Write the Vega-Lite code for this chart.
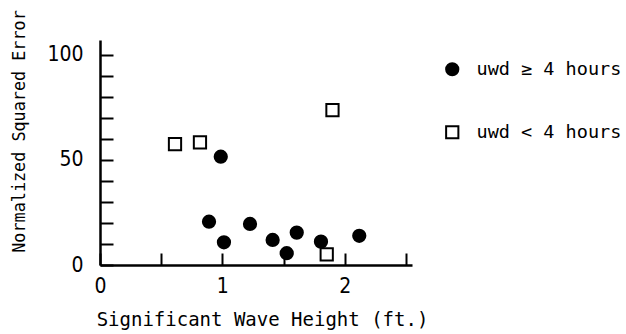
{
  "$schema": "https://vega.github.io/schema/vega-lite/v6.json",
  "width": 312,
  "height": 225,
  "autosize": "none",
  "padding": {"left": 100, "top": 40, "right": 214, "bottom": 69},
  "background": "white",
  "data": {
    "values": [
      {"h": 0.613, "err": 57.5, "group": "uwd < 4 hours"},
      {"h": 0.817, "err": 58.3, "group": "uwd < 4 hours"},
      {"h": 1.90, "err": 73.7, "group": "uwd < 4 hours"},
      {"h": 1.853, "err": 5.1, "group": "uwd < 4 hours"},
      {"h": 0.987, "err": 51.5, "group": "uwd ≥ 4 hours"},
      {"h": 0.891, "err": 20.6, "group": "uwd ≥ 4 hours"},
      {"h": 1.013, "err": 10.8, "group": "uwd ≥ 4 hours"},
      {"h": 1.226, "err": 19.5, "group": "uwd ≥ 4 hours"},
      {"h": 1.411, "err": 11.9, "group": "uwd ≥ 4 hours"},
      {"h": 1.526, "err": 5.6, "group": "uwd ≥ 4 hours"},
      {"h": 1.608, "err": 15.4, "group": "uwd ≥ 4 hours"},
      {"h": 1.806, "err": 11.1, "group": "uwd ≥ 4 hours"},
      {"h": 2.119, "err": 13.9, "group": "uwd ≥ 4 hours"}
    ]
  },
  "mark": {"type": "point", "filled": false, "strokeWidth": 2, "opacity": 1, "size": 150},
  "encoding": {
    "x": {
      "field": "h", "type": "quantitative",
      "scale": {"domain": [0, 2.55], "nice": false, "zero": false},
      "axis": {
        "title": "Significant Wave Height (ft.)",
        "values": [0, 0.5, 1, 1.5, 2, 2.5],
        "labelExpr": "datum.value % 1 == 0 ? format(datum.value, 'd') : ''",
        "grid": false,
        "domainColor": "black", "domainWidth": 2.5,
        "tickColor": "black", "tickWidth": 2, "tickSize": -12,
        "labelPadding": 22,
        "labelFont": "DejaVu Sans Condensed, Liberation Sans Narrow, DejaVu Sans",
        "labelFontSize": 21, "labelColor": "black",
        "titleFont": "DejaVu Sans Mono", "titleFontSize": 19, "titleFontWeight": "normal", "titleColor": "black",
        "titleX": 162, "titleY": 60, "titleAlign": "center", "titleBaseline": "alphabetic"
      }
    },
    "y": {
      "field": "err", "type": "quantitative",
      "scale": {"domain": [0, 107], "nice": false, "zero": true},
      "axis": {
        "title": "Normalized Squared Error",
        "values": [0, 10, 20, 30, 40, 50, 60, 70, 80, 90, 100],
        "labelExpr": "datum.value % 50 == 0 ? datum.label : ''",
        "grid": false,
        "domainColor": "black", "domainWidth": 2.5,
        "tickColor": "black", "tickWidth": 2, "tickSize": -13,
        "labelPadding": 30,
        "labelFont": "DejaVu Sans Condensed, Liberation Sans Narrow, DejaVu Sans",
        "labelFontSize": 21, "labelColor": "black",
        "titleFont": "DejaVu Sans Mono", "titleFontSize": 16.8, "titleFontWeight": "normal", "titleColor": "black",
        "titleX": -76, "titleY": 91, "titleAlign": "center", "titleBaseline": "alphabetic", "titleAngle": -90
      }
    },
    "shape": {
      "field": "group", "type": "nominal",
      "scale": {"domain": ["uwd ≥ 4 hours", "uwd < 4 hours"], "range": ["circle", "square"]},
      "legend": {
        "title": null,
        "orient": "none", "legendX": 343, "legendY": 20,
        "padding": 0, "rowPadding": 42, "labelOffset": 15,
        "symbolSize": 150, "symbolStrokeWidth": 2,
        "labelFont": "DejaVu Sans Mono", "labelFontSize": 18.5, "labelColor": "black"
      }
    },
    "fill": {
      "field": "group", "type": "nominal",
      "scale": {"domain": ["uwd ≥ 4 hours", "uwd < 4 hours"], "range": ["black", "white"]},
      "legend": {
        "title": null,
        "orient": "none", "legendX": 343, "legendY": 20,
        "padding": 0, "rowPadding": 42, "labelOffset": 15,
        "symbolSize": 150, "symbolStrokeWidth": 2,
        "labelFont": "DejaVu Sans Mono", "labelFontSize": 18.5, "labelColor": "black"
      }
    },
    "stroke": {
      "field": "group", "type": "nominal",
      "scale": {"domain": ["uwd ≥ 4 hours", "uwd < 4 hours"], "range": ["black", "black"]},
      "legend": {
        "title": null,
        "orient": "none", "legendX": 343, "legendY": 20,
        "padding": 0, "rowPadding": 42, "labelOffset": 15,
        "symbolSize": 150, "symbolStrokeWidth": 2,
        "labelFont": "DejaVu Sans Mono", "labelFontSize": 18.5, "labelColor": "black"
      }
    }
  },
  "config": {
    "view": {"stroke": null},
    "axis": {"labelFlush": false, "labelOverlap": false}
  }
}
